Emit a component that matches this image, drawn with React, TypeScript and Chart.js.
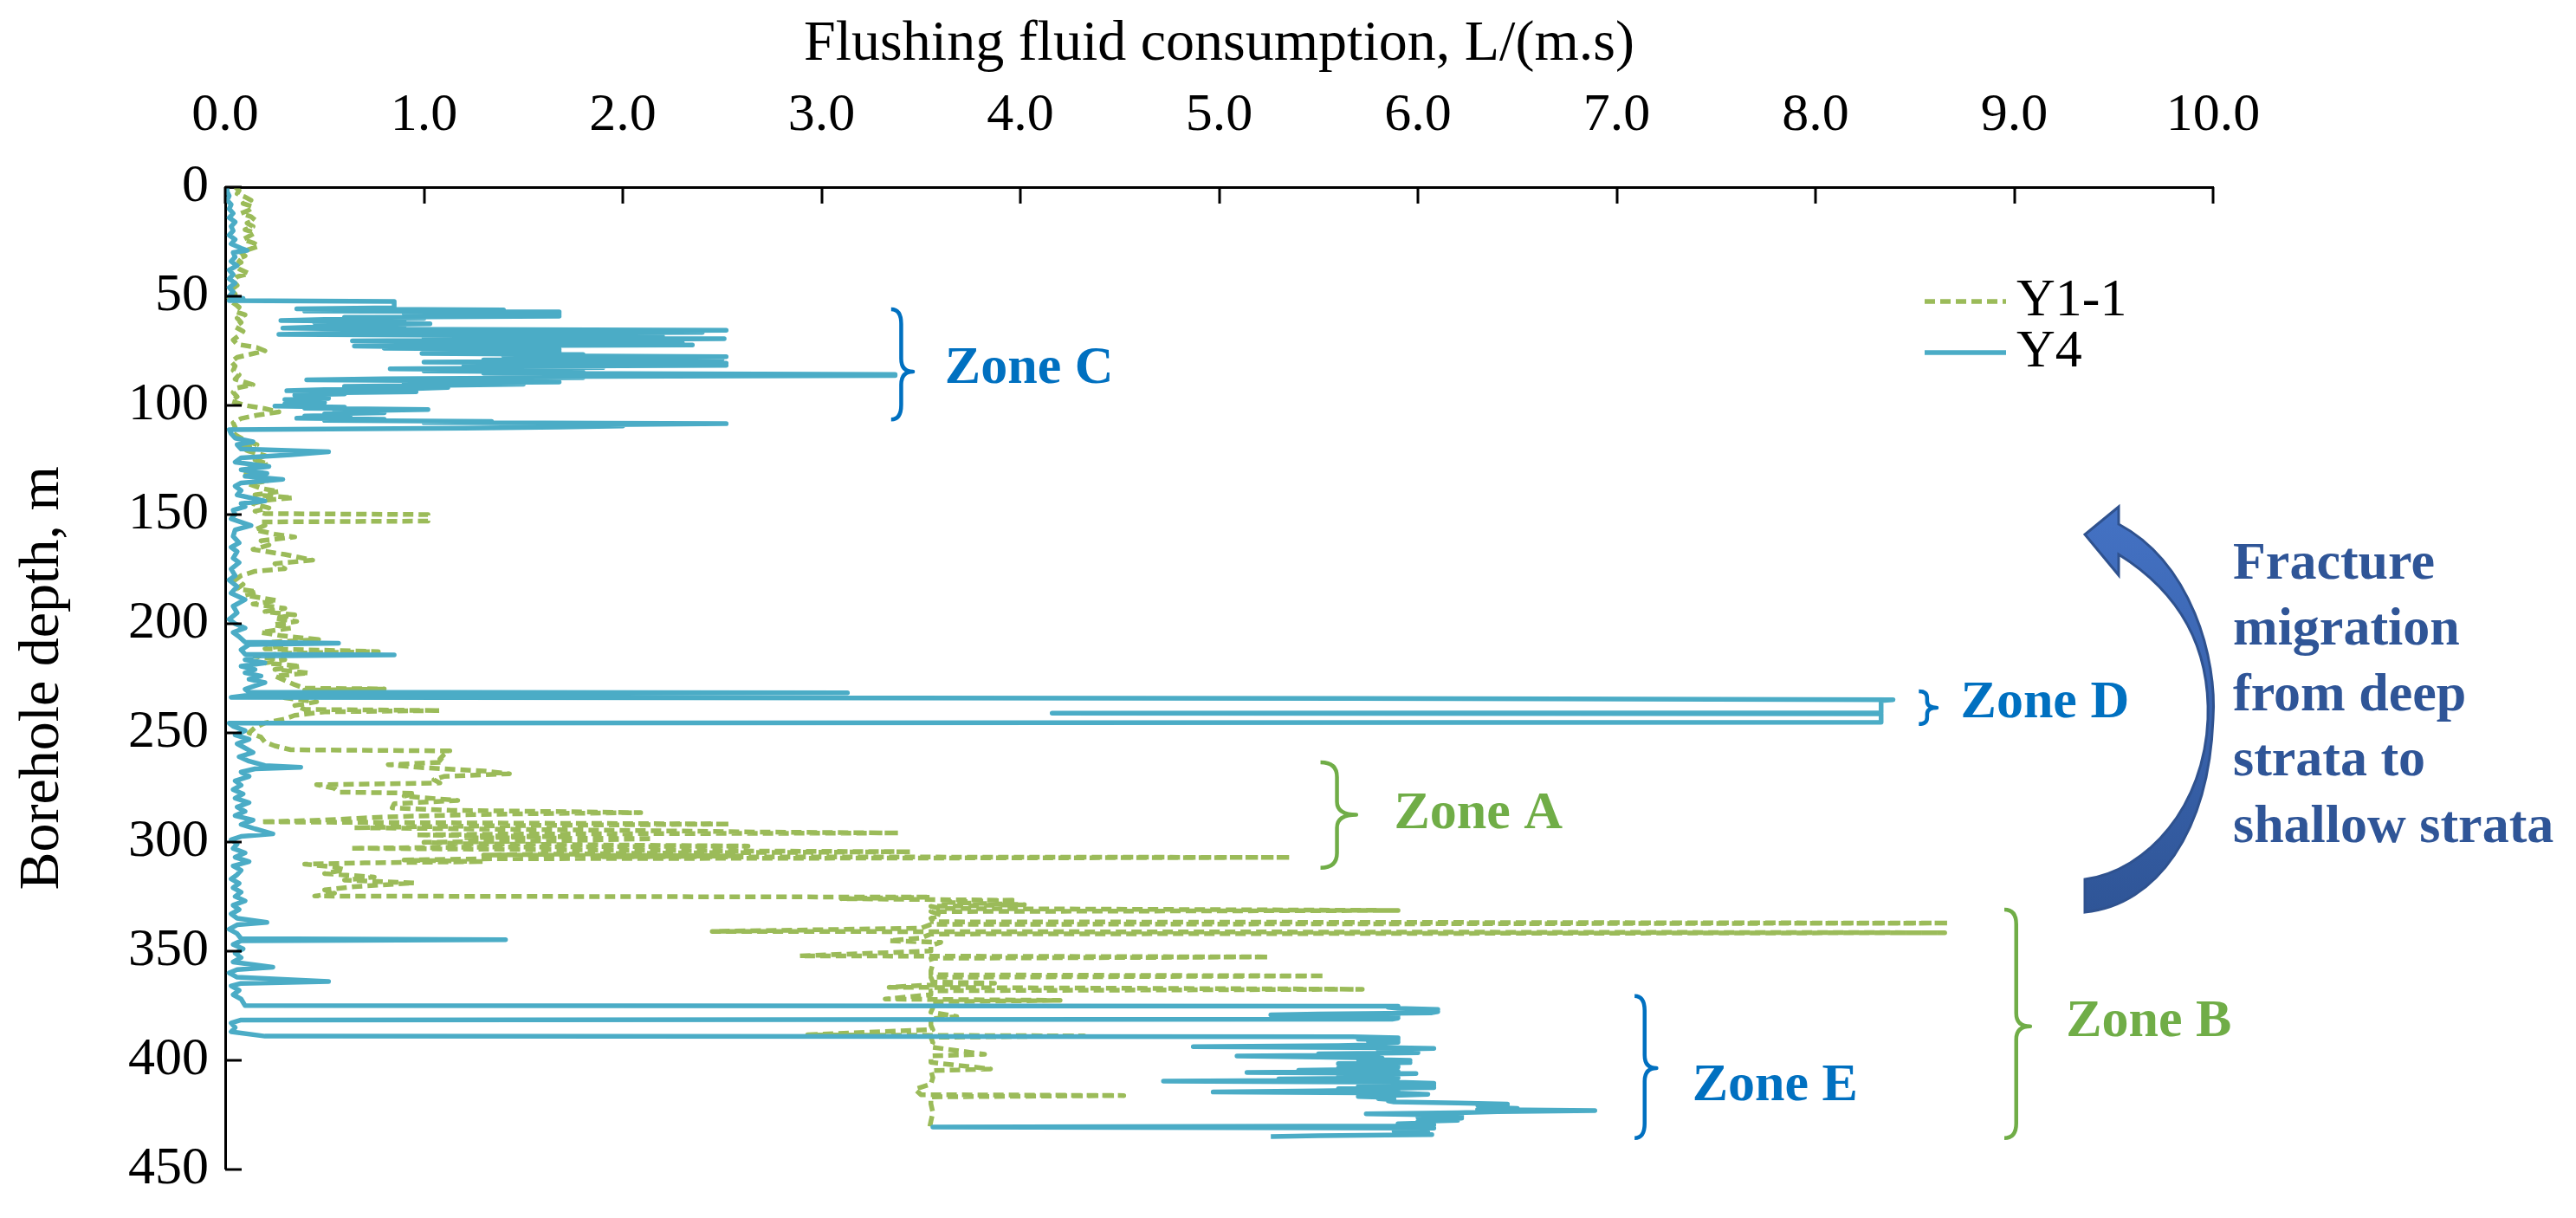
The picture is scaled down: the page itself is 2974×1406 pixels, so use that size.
import React, { useEffect, useRef } from 'react';
import { Chart, registerables } from 'chart.js';

Chart.register(...registerables);

// ---------- data ----------
const xTickValues = [0, 1, 2, 3, 4, 5, 6, 7, 8, 9, 10];
const xTickLabels = ['0.0', '1.0', '2.0', '3.0', '4.0', '5.0', '6.0', '7.0', '8.0', '9.0', '10.0'];
const yTickValues = [0, 50, 100, 150, 200, 250, 300, 350, 400, 450];
const yTickLabels = ['0', '50', '100', '150', '200', '250', '300', '350', '400', '450'];

const seriesNames = ['Y1-1', 'Y4'];

// Y4: depth (m) and flushing fluid consumption (L/(m.s))
const y4Depth = [
  0, 2, 4, 6, 8, 10, 12, 14, 16, 18,
  20, 22, 24, 26, 28, 29, 30, 32, 34, 36,
  38, 40, 42, 44, 46, 48, 50, 51, 52, 52.4,
  55.3, 55.8, 56.3, 56.8, 57.2, 57.7, 58.1, 58.6, 59.1, 59.6,
  60.1, 60.6, 61.1, 61.6, 62.1, 62.6, 63.1, 63.6, 64.1, 64.6,
  65.1, 65.6, 66.1, 66.6, 67.1, 67.5, 68.0, 68.5, 69.0, 69.5,
  70.0, 70.4, 70.9, 71.4, 71.9, 72.3, 72.8, 73.3, 73.8, 74.3,
  74.8, 75.3, 75.8, 76.2, 76.7, 77.2, 77.7, 78.2, 78.7, 79.2,
  79.7, 80.2, 80.7, 81.2, 81.7, 82.2, 82.7, 83.2, 83.7, 84.2,
  84.7, 85.2, 85.8, 86.3, 86.8, 87.3, 87.8, 88.3, 88.8, 89.3,
  89.8, 90.3, 90.8, 91.3, 91.8, 92.3, 92.8, 93.3, 93.8, 94.3,
  94.8, 95.3, 95.8, 96.3, 96.8, 97.3, 97.8, 98.3, 98.8, 99.3,
  99.8, 100.3, 100.8, 101.3, 101.9, 102.4, 102.9, 103.4, 103.9, 104.4,
  104.9, 105.4, 105.9, 106.4, 106.9, 107.4, 107.9, 108.4, 108.9, 109.4,
  109.9, 110.4, 111.1, 113, 115, 116.7, 118, 120, 121.3, 122.6,
  124, 126, 128, 129.5, 131.2, 132.5, 133.9, 135.5, 137, 139,
  141, 143.8, 145, 146.4, 148, 150, 152, 155, 157, 160,
  163, 165, 167, 170, 172, 175, 178, 180, 183, 186,
  189, 192, 195, 198, 200, 202, 204, 206, 208.5, 209,
  209.6, 212, 214, 214.3, 214.8, 216.5, 218, 219.5, 221, 222.5,
  224, 225.5, 227, 228.5, 230, 231.4, 231.7, 232.2, 233, 233.8,
  234.3, 234.5, 234.7, 234.9, 235.3, 240.8, 241, 241.3, 245.2, 245.6,
  247, 249, 251, 253, 255, 257, 259, 261, 263, 265,
  265.8, 266.5, 268, 270, 272, 274, 276, 278, 280, 282,
  284, 286, 288, 290, 292, 294, 296.3, 297.5, 299, 301,
  303, 305, 307, 309, 311, 313, 315, 317, 319, 321,
  323, 325, 327, 329, 331, 333, 335, 336.9, 338, 340,
  342, 344.3, 344.8, 345.3, 347, 349, 351, 353, 355, 357.4,
  358.5, 360, 362, 364, 364.8, 366, 368, 370, 372, 375,
  375.3, 375.8, 376.3, 376.8, 377.3, 377.8, 378.3, 378.8, 379.2, 379.7,
  380.2, 380.7, 381.2, 381.6, 383, 385, 387, 389, 389.3, 389.8,
  390.3, 390.8, 391.3, 391.8, 392.3, 392.8, 393.3, 393.8, 394.3, 394.6,
  395.1, 395.6, 396.1, 396.6, 397.1, 397.6, 398.1, 398.6, 399.1, 399.6,
  400.1, 400.6, 401.1, 401.6, 402.1, 402.6, 403.1, 403.6, 404.1, 404.6,
  405.1, 405.6, 406.1, 406.6, 407.1, 407.6, 408.1, 408.6, 409.1, 409.6,
  410.1, 410.6, 411.1, 411.6, 412.1, 412.6, 413.1, 413.6, 414.1, 414.6,
  415.1, 415.6, 416.1, 416.6, 417.1, 417.6, 418.1, 418.6, 419.1, 419.6,
  420.1, 420.6, 421.1, 421.6, 422.1, 422.6, 423.1, 423.6, 424.1, 424.6,
  425.1, 425.6, 426.1, 426.6, 427.1, 427.6, 428.1, 428.6, 429.1, 429.6,
  430.1, 430.6, 431.1, 431.6, 432.1, 432.6, 433.1, 433.6, 434.1, 434.6,
  435,
];
const y4Value = [
  0.01, 0.01, 0.02, 0.01, 0.03, 0.02, 0.04, 0.02, 0.05, 0.03,
  0.04, 0.02, 0.05, 0.03, 0.08, 0.11, 0.04, 0.05, 0.03, 0.06,
  0.02, 0.04, 0.02, 0.05, 0.02, 0.04, 0.02, 0.09, 0.02, 0.85,
  0.85, 0.36, 1.4, 0.4, 1.68, 0.9, 1.68, 1.1, 1.68, 0.6,
  1.0, 0.5, 0.28, 0.9, 0.45, 1.03, 0.6, 0.9, 0.45, 0.29,
  0.8, 2.52, 1.3, 2.4, 0.5, 0.27, 1.4, 2.2, 1.0, 2.51,
  1.5, 0.64, 1.2, 2.3, 1.5, 2.35, 0.65, 1.1, 0.8, 1.68,
  1.2, 1.68, 1.1, 0.99, 1.8, 1.4, 2.52, 1.7, 2.5, 1.3,
  1.9, 1.0, 2.52, 1.6, 2.52, 1.2, 1.9, 0.83, 1.5, 1.0,
  1.8, 1.3, 3.37, 3.37, 1.5, 1.8, 0.8, 0.41, 1.3, 1.68,
  0.9, 1.5, 1.12, 0.6, 1.12, 0.96, 0.5, 0.31, 0.96, 0.5,
  0.6, 0.35, 0.52, 0.4, 0.52, 0.3, 0.45, 0.39, 0.5, 0.3,
  0.45, 0.25, 0.6, 0.4, 1.02, 0.7, 0.55, 0.8, 0.5, 0.63,
  0.4, 0.5, 0.36, 0.8, 0.5, 1.34, 1.0, 2.52, 1.8, 2.0,
  1.68, 1.2, 0.02, 0.03, 0.05, 0.14, 0.06, 0.08, 0.52, 0.33,
  0.08, 0.05, 0.22, 0.08, 0.21, 0.1, 0.29, 0.08, 0.05, 0.08,
  0.06, 0.2, 0.08, 0.1, 0.04, 0.05, 0.03, 0.13, 0.05, 0.04,
  0.07, 0.03, 0.06, 0.04, 0.07, 0.03, 0.05, 0.02, 0.06, 0.03,
  0.1, 0.04, 0.06, 0.02, 0.05, 0.1, 0.04, 0.07, 0.1, 0.57,
  0.12, 0.08, 0.1, 0.85, 0.15, 0.1, 0.2, 0.08, 0.15, 0.1,
  0.18, 0.12, 0.2, 0.15, 0.1, 0.12, 3.13, 0.2, 0.1, 0.03,
  5.66, 6.71, 7.49, 8.39, 8.33, 8.33, 4.16, 8.33, 8.33, 0.02,
  0.04, 0.1, 0.05, 0.12, 0.06, 0.1, 0.14, 0.07, 0.12, 0.2,
  0.38, 0.15, 0.08, 0.12, 0.05, 0.08, 0.04, 0.09, 0.05, 0.12,
  0.06, 0.1, 0.05, 0.14, 0.08, 0.15, 0.24, 0.08, 0.03, 0.06,
  0.04, 0.1, 0.05, 0.12, 0.04, 0.08, 0.06, 0.03, 0.07, 0.04,
  0.08, 0.05, 0.1, 0.04, 0.07, 0.03, 0.06, 0.21, 0.06, 0.02,
  0.06, 0.08, 1.41, 0.08, 0.04, 0.09, 0.05, 0.08, 0.04, 0.24,
  0.06, 0.02, 0.06, 0.52, 0.08, 0.03, 0.07, 0.04, 0.08, 0.1,
  5.9, 5.85, 5.9, 6.1, 6.0, 6.1, 6.07, 5.5, 5.26, 5.9,
  5.85, 5.9, 5.87, 0.08, 0.03, 0.05, 0.03, 0.2, 5.67, 5.9,
  5.7, 5.9, 5.75, 5.9, 5.8, 5.85, 5.6, 4.87, 5.9, 6.08,
  5.8, 6.0, 5.85, 6.0, 5.5, 5.8, 5.09, 5.5, 5.82, 5.7,
  5.96, 5.8, 5.96, 5.6, 5.9, 5.76, 5.9, 5.6, 5.8, 5.4,
  5.9, 5.14, 5.99, 5.7, 5.88, 5.6, 5.9, 5.3, 5.8, 4.72,
  5.9, 6.08, 5.8, 6.08, 5.7, 6.08, 5.6, 5.9, 5.5, 4.97,
  5.9, 6.05, 5.88, 5.7, 5.88, 5.8, 5.88, 5.85, 5.88, 6.2,
  6.45, 6.3, 6.45, 6.35, 6.5, 6.3, 6.89, 6.4, 6.2, 5.74,
  6.1, 6.22, 6.0, 6.22, 6.1, 6.2, 6.0, 6.08, 5.9, 6.08,
  5.9, 3.56, 6.08, 5.9, 6.0, 5.88, 6.05, 5.9, 6.07, 5.5,
  5.26,
];

// Y1-1: depth (m) and flushing fluid consumption (L/(m.s))
const y11Depth = [
  0, 1.5, 3, 4.5, 6, 7.5, 9, 10.5, 12, 13.5,
  15, 16.5, 18, 19.5, 21, 22.5, 24, 25.5, 27, 28.5,
  30, 31.5, 33, 34.5, 36, 37.5, 39.6, 41, 43, 45,
  47, 49, 51, 53, 55, 57, 58.5, 60, 62, 64,
  66, 68, 70, 72, 73.5, 75, 76.5, 78, 80, 82,
  84, 86, 88, 90.5, 92, 94, 96, 98, 100, 101.5,
  103, 104.5, 106, 108, 110, 112, 114, 116, 118, 119.5,
  121, 123, 125, 127, 129, 131, 133, 134.5, 136, 138,
  139.5, 141, 142.3, 143.5, 145, 147, 148.5, 149.6, 150, 153,
  153.4, 155, 157, 159, 160.3, 162, 164, 166, 168.3, 170.9,
  172.5, 174.8, 176, 178, 180, 182, 184, 185.4, 187, 189.4,
  191, 193, 194.5, 196, 197.5, 199, 200.5, 202, 204, 205.5,
  207.3, 208.5, 210, 211.5, 212.8, 213.6, 215, 216.5, 218, 219.5,
  221, 222.6, 224, 226, 228, 229.6, 229.9, 230.4, 232.5, 234,
  235.8, 237.5, 239.3, 239.8, 240.4, 242, 243.7, 245.5, 247.6, 250,
  252, 254.3, 256, 257.8, 258.3, 260, 262, 263.5, 264.6, 266,
  267.5, 268.8, 270, 271.5, 273, 273.8, 275.5, 277.2, 277.7, 279,
  281, 282.5, 284.4, 285.5, 286.6, 287.1, 287.6, 288.3, 289, 290,
  290.8, 291.3, 291.8, 292.5, 293, 293.5, 294.2, 294.8, 295.4, 295.9,
  296.4, 296.8, 297.2, 297.6, 298.1, 298.5, 299, 299.5, 300.2, 300.8,
  301.4, 301.9, 302.4, 302.9, 303.4, 303.8, 304.2, 304.5, 305, 305.5,
  306, 306.4, 306.8, 307.1, 307.7, 308.3, 309, 309.6, 310.2, 311.5,
  312.8, 314.5, 316.1, 317.5, 318.8, 320.5, 322, 323.5, 324.8, 325.3,
  326, 326.8, 327.6, 328.7, 329.5, 330.5, 331.4, 331.9, 333.5, 335,
  336.6, 337.2, 337.8, 339.5, 341, 341.6, 342.2, 344, 345.3, 346,
  347.5, 350, 352.2, 352.7, 353.3, 356, 359, 360.9, 361.4, 362,
  364.2, 364.7, 365.5, 366.6, 367.5, 368.2, 370, 372, 372.6, 373.2,
  376, 378, 380, 381, 384, 386, 388.4, 388.9, 389.5, 392,
  394, 397.3, 398, 401, 404, 404.8, 408, 411, 413.3, 415.8,
  416.2, 416.8, 420, 424, 428, 432.5,
];
const y11Value = [
  0.05, 0.07, 0.06, 0.1, 0.13, 0.09, 0.14, 0.12, 0.08, 0.13,
  0.15, 0.11, 0.14, 0.1, 0.15, 0.12, 0.09, 0.14, 0.17, 0.12,
  0.08, 0.1, 0.06, 0.08, 0.05, 0.07, 0.12, 0.06, 0.04, 0.06,
  0.03, 0.05, 0.02, 0.04, 0.07, 0.05, 0.1, 0.06, 0.08, 0.05,
  0.09, 0.07, 0.04, 0.06, 0.16, 0.2, 0.13, 0.06, 0.03, 0.05,
  0.04, 0.07, 0.05, 0.14, 0.06, 0.04, 0.06, 0.03, 0.1, 0.2,
  0.27, 0.16, 0.08, 0.04, 0.05, 0.03, 0.06, 0.1, 0.16, 0.08,
  0.12, 0.2, 0.15, 0.22, 0.12, 0.08, 0.15, 0.22, 0.12, 0.18,
  0.27, 0.15, 0.34, 0.2, 0.14, 0.22, 0.15, 0.2, 1.02, 1.02,
  0.18, 0.2, 0.15, 0.25, 0.35, 0.18, 0.22, 0.14, 0.3, 0.44,
  0.25, 0.3, 0.15, 0.08, 0.05, 0.09, 0.06, 0.16, 0.1, 0.26,
  0.14, 0.3, 0.2, 0.35, 0.25, 0.36, 0.24, 0.33, 0.18, 0.28,
  0.47, 0.22, 0.3, 0.2, 0.77, 0.3, 0.15, 0.3, 0.2, 0.38,
  0.25, 0.42, 0.25, 0.3, 0.35, 0.4, 0.8, 0.4, 0.42, 0.3,
  0.46, 0.35, 0.4, 1.08, 0.5, 0.35, 0.3, 0.2, 0.15, 0.12,
  0.18, 0.2, 0.25, 0.33, 1.13, 1.1, 1.08, 1.1, 0.82, 1.0,
  1.3, 1.43, 1.1, 1.05, 1.08, 0.46, 0.55, 0.57, 0.96, 0.9,
  1.17, 0.85, 0.84, 1.13, 2.09, 1.5, 1.2, 0.9, 0.7, 0.5,
  0.18, 1.2, 2.54, 1.5, 1.0, 0.65, 1.4, 2.1, 2.6, 3.39,
  1.4, 0.96, 1.3, 1.7, 1.2, 2.15, 1.9, 1.68, 1.0, 1.2,
  1.9, 2.63, 1.3, 0.63, 1.4, 2.0, 2.7, 3.45, 2.3, 1.8,
  1.3, 2.6, 1.9, 5.36, 1.35, 0.9, 1.3, 0.7, 0.4, 0.55,
  0.6, 0.5, 0.75, 0.6, 0.95, 0.65, 0.5, 0.55, 0.45, 3.55,
  3.1, 3.98, 3.6, 4.02, 3.55, 3.6, 5.9, 3.55, 3.6, 3.55,
  3.56, 8.67, 3.55, 3.5, 2.45, 8.65, 3.55, 3.5, 3.34, 3.6,
  3.55, 3.55, 2.89, 5.25, 3.55, 3.56, 3.55, 3.55, 5.53, 3.55,
  3.56, 3.87, 3.55, 3.34, 5.72, 3.55, 3.55, 3.32, 4.2, 3.55,
  3.56, 3.55, 3.68, 3.55, 3.55, 3.56, 2.93, 4.32, 3.55, 3.56,
  3.55, 3.82, 3.55, 3.55, 3.85, 3.55, 3.56, 3.55, 3.47, 3.5,
  4.52, 3.55, 3.55, 3.56, 3.55, 3.54,
];

// ---------- styling / annotation configuration ----------
const W = 2974;
const H = 1406;
const FONT = "'Liberation Serif', 'Times New Roman', serif";
const GREEN = '#9BBB59';
const BLUE = '#4BACC6';
const ZONE_BLUE = '#0070C0';
const ZONE_GREEN = '#70AD47';
const ARROW_TEXT = '#2F5597';
const LINE_W = 5.5;

// braces and labels, in data units (x = consumption, y = depth)
const zones = [
  { text: 'Zone C', color: ZONE_BLUE, x0: 3.35, x1: 3.46, yTop: 56, yBot: 106.5, yTip: 84.5, lx: 3.62, ly: 83.3 },
  { text: 'Zone D', color: ZONE_BLUE, x0: 8.52, x1: 8.61, yTop: 231, yBot: 246, yTip: 238.5, lx: 8.73, ly: 236.5 },
  { text: 'Zone A', color: ZONE_GREEN, x0: 5.51, x1: 5.69, yTop: 263.5, yBot: 311.9, yTip: 287.6, lx: 5.88, ly: 287.3 },
  { text: 'Zone B', color: ZONE_GREEN, x0: 8.95, x1: 9.08, yTop: 331, yBot: 435.7, yTip: 384.5, lx: 9.26, ly: 382.5 },
  { text: 'Zone E', color: ZONE_BLUE, x0: 7.09, x1: 7.2, yTop: 370.6, yBot: 435.7, yTip: 403.6, lx: 7.38, ly: 412 },
];

const noteLines = ['Fracture', 'migration', 'from deep', 'strata to', 'shallow strata'];

function drawBrace(ctx: CanvasRenderingContext2D, x0: number, x1: number, yTop: number, yBot: number, yTip: number) {
  const xm = x0 + (x1 - x0) * 0.46;
  const r = Math.min(17, (yBot - yTop) / 5);
  const rt = Math.min(15, (yBot - yTop) / 5);
  ctx.beginPath();
  ctx.moveTo(x0, yTop);
  ctx.quadraticCurveTo(xm, yTop, xm, yTop + r);
  ctx.lineTo(xm, yTip - rt);
  ctx.quadraticCurveTo(xm, yTip, x1, yTip);
  ctx.quadraticCurveTo(xm, yTip, xm, yTip + rt);
  ctx.lineTo(xm, yBot - r);
  ctx.quadraticCurveTo(xm, yBot, x0, yBot);
  ctx.stroke();
}

const decorPlugin = {
  id: 'decor',
  afterDatasetsDraw(chart: any) {
    const { ctx, chartArea, scales } = chart;
    const xs = scales.x;
    const ys = scales.y;
    ctx.save();

    // inner tick marks
    ctx.strokeStyle = '#000';
    ctx.lineWidth = 3;
    ctx.lineCap = 'butt';
    for (const v of xTickValues) {
      const px = Math.round(xs.getPixelForValue(v));
      ctx.beginPath();
      ctx.moveTo(px, chartArea.top);
      ctx.lineTo(px, chartArea.top + 19);
      ctx.stroke();
    }
    for (const v of yTickValues) {
      const py = Math.round(ys.getPixelForValue(v));
      ctx.beginPath();
      ctx.moveTo(chartArea.left, py);
      ctx.lineTo(chartArea.left + 19, py);
      ctx.stroke();
    }

    // legend
    const legendItems = [
      { name: seriesNames[0], color: GREEN, dash: [12, 6], y: 348 },
      { name: seriesNames[1], color: BLUE, dash: [], y: 407 },
    ];
    ctx.font = `62px ${FONT}`;
    ctx.textBaseline = 'middle';
    ctx.textAlign = 'left';
    for (const it of legendItems) {
      ctx.strokeStyle = it.color;
      ctx.lineWidth = LINE_W;
      ctx.setLineDash(it.dash);
      ctx.beginPath();
      ctx.moveTo(2222, it.y);
      ctx.lineTo(2316, it.y);
      ctx.stroke();
      ctx.setLineDash([]);
      ctx.fillStyle = '#000';
      ctx.fillText(it.name, 2328, it.y);
    }

    // zone braces and labels
    for (const z of zones) {
      ctx.strokeStyle = z.color;
      ctx.lineWidth = 4.5;
      ctx.lineJoin = 'round';
      drawBrace(
        ctx,
        xs.getPixelForValue(z.x0),
        xs.getPixelForValue(z.x1),
        ys.getPixelForValue(z.yTop),
        ys.getPixelForValue(z.yBot),
        ys.getPixelForValue(z.yTip),
      );
      ctx.fillStyle = z.color;
      ctx.font = `bold 62px ${FONT}`;
      ctx.textBaseline = 'middle';
      ctx.textAlign = 'left';
      ctx.fillText(z.text, xs.getPixelForValue(z.lx), ys.getPixelForValue(z.ly));
    }

    // curved arrow (deep -> shallow)
    const grad = ctx.createLinearGradient(0, 585, 0, 1053);
    grad.addColorStop(0, '#4472C4');
    grad.addColorStop(1, '#2F5597');
    ctx.beginPath();
    ctx.moveTo(2446, 605);
    ctx.bezierCurveTo(2530, 650, 2560, 760, 2555, 830);
    ctx.bezierCurveTo(2550, 960, 2490, 1045, 2407, 1053);
    ctx.lineTo(2407, 1015);
    ctx.bezierCurveTo(2480, 1005, 2545, 930, 2549, 830);
    ctx.bezierCurveTo(2552, 740, 2510, 680, 2446, 640);
    ctx.lineTo(2446, 664);
    ctx.lineTo(2407, 617);
    ctx.lineTo(2446, 585);
    ctx.closePath();
    ctx.fillStyle = grad;
    ctx.fill();
    ctx.strokeStyle = '#2F528F';
    ctx.lineWidth = 3;
    ctx.lineJoin = 'miter';
    ctx.stroke();

    // note text
    ctx.fillStyle = ARROW_TEXT;
    ctx.font = `bold 62px ${FONT}`;
    ctx.textBaseline = 'alphabetic';
    ctx.textAlign = 'left';
    const baselines = [668, 744, 820, 895, 972];
    noteLines.forEach((t, i) => ctx.fillText(t, 2578, baselines[i]));

    ctx.restore();
  },
};

export default function App() {
  const canvasRef = useRef<HTMLCanvasElement>(null);

  useEffect(() => {
    document.body.style.margin = '0';
    const canvas = canvasRef.current;
    if (!canvas) return;

    const chart = new Chart(canvas, {
      type: 'scatter',
      data: {
        datasets: [
          {
            label: seriesNames[0],
            data: y11Depth.map((d, i) => ({ x: y11Value[i], y: d })),
            showLine: true,
            borderColor: GREEN,
            backgroundColor: GREEN,
            borderWidth: LINE_W,
            borderDash: [12, 6],
            borderJoinStyle: 'round',
            pointRadius: 0,
            pointHoverRadius: 0,
            tension: 0,
            order: 1,
          },
          {
            label: seriesNames[1],
            data: y4Depth.map((d, i) => ({ x: y4Value[i], y: d })),
            showLine: true,
            borderColor: BLUE,
            backgroundColor: BLUE,
            borderWidth: LINE_W,
            borderJoinStyle: 'round',
            pointRadius: 0,
            pointHoverRadius: 0,
            tension: 0,
            order: 0,
          },
        ],
      },
      options: {
        responsive: false,
        animation: false,
        devicePixelRatio: 1,
        layout: { padding: { left: 0, top: 0, right: W - 2555, bottom: H - 1350 } },
        plugins: {
          legend: { display: false },
          tooltip: { enabled: false },
        },
        scales: {
          x: {
            type: 'linear',
            position: 'top',
            min: 0,
            max: 10,
            afterBuildTicks: (s: any) => {
              s.ticks = xTickValues.map((v) => ({ value: v }));
            },
            afterFit: (s: any) => {
              s.height = 216;
            },
            grid: { display: false, drawTicks: false },
            border: { display: true, color: '#000', width: 3 },
            ticks: {
              padding: 45,
              color: '#000',
              font: { family: FONT, size: 62 },
              maxRotation: 0,
              callback: (_v: any, i: number) => xTickLabels[i],
            },
            title: {
              display: true,
              text: 'Flushing fluid consumption, L/(m.s)',
              color: '#000',
              font: { family: FONT, size: 66 },
              padding: { top: 12, bottom: 0 },
            },
          },
          y: {
            type: 'linear',
            reverse: true,
            min: 0,
            max: 450,
            afterBuildTicks: (s: any) => {
              s.ticks = yTickValues.map((v) => ({ value: v }));
            },
            afterFit: (s: any) => {
              s.width = 260;
            },
            grid: { display: false, drawTicks: false },
            border: { display: true, color: '#000', width: 3 },
            ticks: {
              padding: 19,
              color: '#000',
              font: { family: FONT, size: 62 },
              callback: (_v: any, i: number) => yTickLabels[i],
            },
            title: {
              display: true,
              text: 'Borehole depth, m',
              color: '#000',
              font: { family: FONT, size: 66 },
              padding: { top: 10, bottom: 0 },
            },
          },
        },
      },
      plugins: [decorPlugin],
    });

    return () => chart.destroy();
  }, []);

  return (
    <div style={{ position: 'absolute', left: 0, top: 0, width: W, height: H, background: '#fff' }}>
      <canvas ref={canvasRef} width={W} height={H} />
    </div>
  );
}
